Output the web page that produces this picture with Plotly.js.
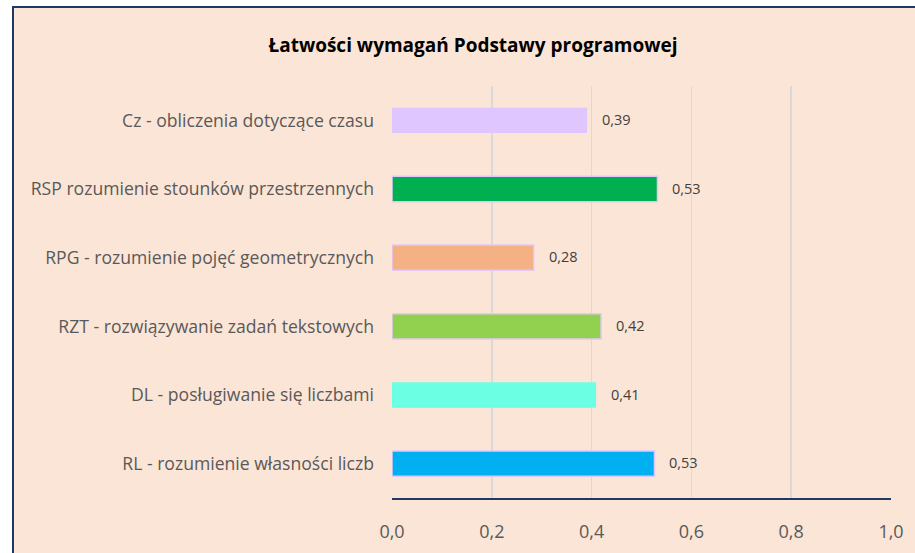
<!DOCTYPE html>
<html>
<head>
<meta charset="utf-8">
<script src="https://cdn.plot.ly/plotly-3.0.1.min.js"></script>
<style>
  html, body { margin: 0; padding: 0; background: #ffffff; overflow: hidden; }
  #bg { position: absolute; left: 12px; top: 6px; width: 1000px; height: 600px;
        background: #FBE5D6; border-left: 2.5px solid #1F3864; border-top: 2.5px solid #1F3864; }
  #chart { position: absolute; left: 0; top: 0; width: 915px; height: 553px; }
</style>
</head>
<body>
<div id="bg"></div>
<div id="chart"></div>
<script>
const categories = [
  "Cz - obliczenia dotyczące czasu",
  "RSP rozumienie stounków przestrzennych",
  "RPG - rozumienie pojęć geometrycznych",
  "RZT - rozwiązywanie zadań tekstowych",
  "DL - posługiwanie się liczbami",
  "RL - rozumienie własności liczb"
];
const values = [0.391, 0.532, 0.284, 0.419, 0.409, 0.526];
const barColors = ["#E0C6FF", "#00B050", "#F4B183", "#92D050", "#6BFFE3", "#00B0F0"];
const outlineWidths = [0, 1.5, 1.5, 1.5, 0, 1.5];
const xTickValues = [0, 0.2, 0.4, 0.6, 0.8, 1.0];
const titleText = "Łatwości wymagań Podstawy programowej";

const fmt = v => v.toFixed(2).replace(".", ",");

const trace = {
  type: "bar",
  orientation: "h",
  y: categories,
  x: values,
  width: 0.37,
  marker: {
    color: barColors,
    line: { color: "#E2C8F8", width: outlineWidths }
  },
  hoverinfo: "skip"
};

const annotations = categories.map((c, i) => ({
  x: values[i], y: c, xref: "x", yref: "y",
  text: fmt(values[i]), showarrow: false,
  xanchor: "left", yanchor: "middle", xshift: 13, yshift: 1,
  font: { family: "Open Sans, sans-serif", size: 14.5, color: "#404040" }
}));

const layout = {
  width: 915, height: 553,
  paper_bgcolor: "rgba(0,0,0,0)",
  plot_bgcolor: "rgba(0,0,0,0)",
  separators: ", ",
  margin: { l: 392, r: 24, t: 86, b: 55 },
  showlegend: false,
  title: {
    text: titleText,
    xref: "container", yref: "container",
    x: 473 / 915, xanchor: "center",
    y: 1 - 45 / 553, yanchor: "middle",
    font: { family: "Open Sans, sans-serif", size: 19, color: "#000000", weight: "bold" }
  },
  xaxis: {
    range: [0, 1],
    tickvals: xTickValues,
    tickformat: ".1f",
    showgrid: true, gridcolor: "#D9D9D9", gridwidth: 1.5,
    zeroline: false,
    showline: true, linecolor: "#1F3864", linewidth: 2,
    ticks: "", ticklabelstandoff: 16,
    tickfont: { family: "Open Sans, sans-serif", size: 18, color: "#595959" },
    fixedrange: true
  },
  yaxis: {
    type: "category",
    autorange: "reversed",
    showgrid: false, zeroline: false, showline: false,
    ticks: "", ticklabelstandoff: 17,
    tickfont: { family: "Open Sans, sans-serif", size: 17.6, color: "#595959" },
    fixedrange: true
  },
  annotations: annotations
};

Plotly.newPlot("chart", [trace], layout, { displayModeBar: false, staticPlot: true });
</script>
</body>
</html>
